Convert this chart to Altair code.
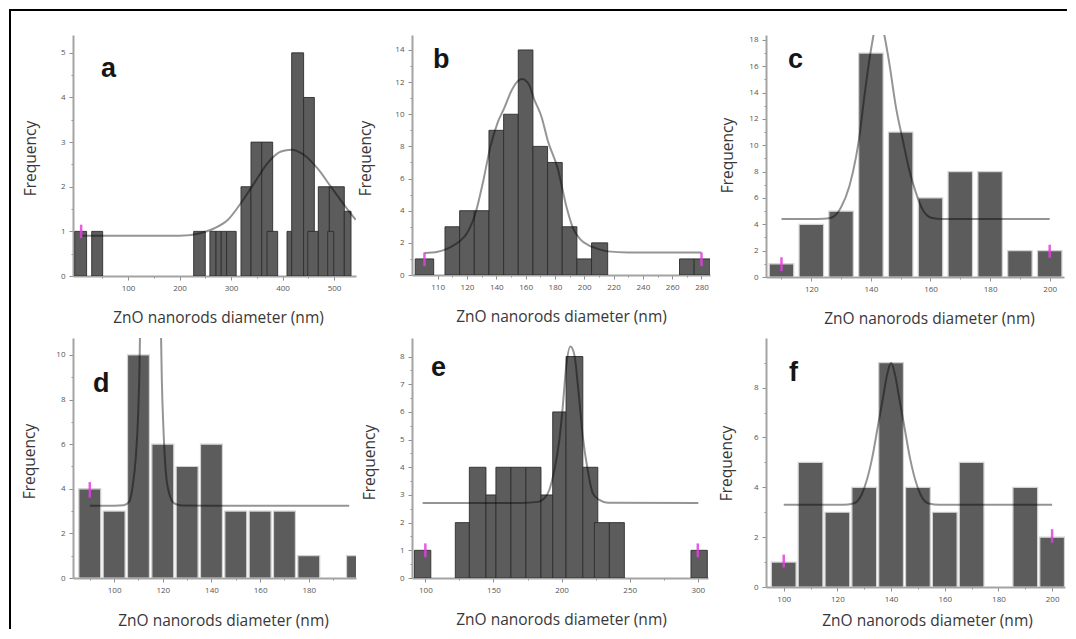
import json
import altair as alt
import pandas as pd

# ------------------------------------------------------------------ data
# panel a : bin edges (nm) and frequencies
a_left = [-3.5, 29.5, 227.5, 259, 271, 281, 291.5, 319.4, 338.8, 359.6, 370, 408.7, 417.8, 441, 449, 469.5, 491, 487.7, 520]
a_right = [19.6, 50.8, 250, 271, 281, 291.5, 310, 338.8, 359.6, 380.9, 390.6, 417.8, 441, 461.8, 469.5, 491, 520, 499.4, 533]
a_count = [1, 1, 1, 1, 1, 1, 1, 2, 3, 3, 1, 1, 5, 4, 1, 2, 2, 1, 1.45]
a_fit_x = [10, 100, 200, 240, 268, 294, 319, 345, 371, 397, 417, 442, 468, 494, 520, 542]
a_fit_y = [0.9, 0.9, 0.9, 0.96, 1.07, 1.26, 1.63, 2.08, 2.53, 2.79, 2.83, 2.71, 2.41, 2.0, 1.59, 1.26]
a_pink_x, a_pink_lo, a_pink_hi = [9], [0.85], [1.15]
a_xmaj, a_xmin = [100, 200, 300, 400, 500], [50, 150, 250, 350, 450]
a_xlab = ["100", "200", "300", "400", "500"]
a_ymaj, a_ymin = [0, 1, 2, 3, 4, 5], [0.5, 1.5, 2.5, 3.5, 4.5]

# panel b
b_left = [84.7, 105, 115, 125, 135, 145, 155, 165, 175, 185, 195, 205, 265, 275]
b_right = [97.3, 115, 125, 135, 145, 155, 165, 175, 185, 195, 205, 216, 275, 286]
b_count = [1, 3, 4, 4, 9, 10, 14, 8, 7, 3, 1, 2, 1, 1]
b_fit_x = [91, 100, 105, 110, 115, 120, 126, 131, 136, 141, 145.5, 150, 154, 157.5, 162, 166, 171, 175, 182, 188, 192, 197.5, 203, 207, 216, 230, 280]
b_fit_y = [1.37, 1.45, 1.58, 1.8, 2.1, 2.6, 3.9, 5.8, 8.0, 9.5, 10.4, 11.4, 12.0, 12.2, 11.9, 10.9, 9.8, 8.4, 6.6, 4.2, 3.0, 2.2, 1.85, 1.7, 1.47, 1.4, 1.4]
b_pink_x, b_pink_lo, b_pink_hi = [91, 280], [0.55, 0.55], [1.4, 1.4]
b_xmaj = [100, 120, 140, 160, 180, 200, 220, 240, 260, 280]
b_xlab = ["110", "120", "140", "160", "180", "200", "220", "240", "260", "280"]
b_xmin = [110, 130, 150, 170, 190, 210, 230, 250, 270]
b_ymaj, b_ymin = [0, 2, 4, 6, 8, 10, 12, 14], [1, 3, 5, 7, 9, 11, 13]

# panel c : bar centres and frequencies
c_center = [110, 120, 130, 140, 150, 160, 170, 180, 190, 200]
c_count = [1, 4, 5, 17, 11, 6, 8, 8, 2, 2]
c_fit_x = [110, 120, 124, 126.6, 130, 132.8, 135, 136.1, 137.8, 139.5, 140.9, 142.7, 144.5, 146.2, 148.4, 150.7, 152.9, 155.1, 157.4, 160.2, 164, 200]
c_fit_y = [4.4, 4.4, 4.42, 4.5, 5.3, 6.9, 9.1, 10.6, 13.7, 16.5, 18.4, 20.5, 18.4, 16.2, 12.9, 10.4, 8.1, 6.4, 5.1, 4.5, 4.4, 4.4]
c_pink_x, c_pink_lo, c_pink_hi = [110, 200], [0.45, 1.45], [1.5, 2.45]
c_xmaj, c_xmin = [120, 140, 160, 180, 200], [110, 130, 150, 170, 190]
c_xlab = ["120", "140", "160", "180", "200"]
c_ymaj, c_ymin = [0, 2, 4, 6, 8, 10, 12, 14, 16, 18], [1, 3, 5, 7, 9, 11, 13, 15, 17]

# panel d
d_center = [90, 100, 110, 120, 130, 140, 150, 160, 170, 180, 200]
d_count = [4, 3, 10, 6, 5, 6, 3, 3, 3, 1, 1]
d_fit_x = [90, 100, 104, 106.2, 107.6, 108.9, 109.9, 110.4, 110.8, 115, 119.1, 119.6, 120.3, 121.2, 122.6, 124.7, 128, 140, 196.6]
d_fit_y = [3.24, 3.24, 3.26, 3.42, 4.1, 5.4, 7.4, 9.3, 12, 60, 12, 8.9, 6.6, 4.8, 3.8, 3.35, 3.25, 3.24, 3.24]
d_pink_x, d_pink_lo, d_pink_hi = [90], [3.6], [4.3]
d_xmaj, d_xmin = [100, 120, 140, 160, 180], [90, 110, 130, 150, 170, 190]
d_xlab = ["100", "120", "140", "160", "180"]
d_ymaj, d_ymin = [0, 2, 4, 6, 8, 10], [1, 3, 5, 7, 9]

# panel e : bin edges
e_left = [92, 122, 132.3, 144.5, 151.8, 162.8, 173.8, 184.9, 193.5, 203.3, 215.6, 224.1, 235.1, 295]
e_right = [104, 132.3, 144.5, 151.8, 162.8, 173.8, 184.9, 193.5, 203.3, 215.6, 226.6, 235.1, 246.1, 307]
e_count = [1, 2, 4, 3, 4, 4, 4, 3, 6, 8, 4, 2, 2, 1]
e_fit_x = [98, 150, 170, 182.5, 187.4, 191, 194.7, 198.4, 200.9, 203.3, 206.5, 209.4, 212.3, 215.6, 219.2, 222.9, 227.8, 233.9, 300.4]
e_fit_y = [2.71, 2.71, 2.71, 2.75, 2.88, 3.18, 3.9, 5.0, 6.2, 7.6, 8.36, 8.06, 6.8, 5.1, 3.9, 3.06, 2.82, 2.72, 2.71]
e_pink_x, e_pink_lo, e_pink_hi = [100, 300], [0.75, 0.75], [1.25, 1.25]
e_xmaj, e_xmin = [100, 150, 200, 250, 300], [125, 175, 225, 275]
e_xlab = ["100", "150", "200", "250", "300"]
e_ymaj, e_ymin = [0, 1, 2, 3, 4, 5, 6, 7, 8], [0.5, 1.5, 2.5, 3.5, 4.5, 5.5, 6.5, 7.5]

# panel f
f_center = [100, 110, 120, 130, 140, 150, 160, 170, 190, 200]
f_count = [1, 5, 3, 4, 9, 4, 3, 5, 4, 2]
f_fit_x = [100, 122, 126, 129, 131, 133, 135, 137, 138.5, 140, 141.5, 143, 145, 147, 149, 151, 154, 158, 200]
f_fit_y = [3.3, 3.3, 3.35, 3.7, 4.3, 5.2, 6.4, 7.6, 8.5, 9.0, 8.5, 7.6, 6.4, 5.2, 4.3, 3.7, 3.35, 3.3, 3.3]
f_pink_x, f_pink_lo, f_pink_hi = [100, 200], [0.78, 1.78], [1.3, 2.32]
f_xmaj, f_xmin = [100, 120, 140, 160, 180, 200], [110, 130, 150, 170, 190]
f_xlab = ["100", "120", "140", "160", "180", "200"]
f_ymaj, f_ymin = [0, 2, 4, 6, 8], [1, 3, 5, 7, 9]

XTITLE = "ZnO nanorods diameter (nm)"
YTITLE = "Frequency"

# ------------------------------------------------------------------ helpers
def lab_expr(major, labels):
    m = json.dumps(major)
    return f"indexof({m}, datum.value) >= 0 ? {json.dumps(labels)}[indexof({m}, datum.value)] : ''"


def make_axis(major, minor, labels, title, tx, ty, orient):
    m = json.dumps(major)
    kw = dict(
        values=sorted(set(major + minor)),
        title=title,
        orient=orient,
        labelExpr=lab_expr(major, labels),
        labelOverlap=False,
        labelFlush=False,
        labelBound=False,
        grid=False,
        tickSize={"condition": {"test": f"indexof({m}, datum.value) < 0", "value": 2}, "value": 4},
        titleX=tx,
        titleY=ty,
        titleAlign="center",
    )
    if orient == "bottom":
        kw["titleBaseline"] = "alphabetic"
    else:
        kw["titleBaseline"] = "middle"
        kw["titleAngle"] = 270
    return alt.Axis(**kw)


def panel(letter, bars, fit_x, fit_y, px, plo, phi, xdom, ydom, w, h,
          xmaj, xmin, xlab, ymaj, ymin, xt, yt, let_pos, light, extra=None):
    xs = alt.Scale(domain=xdom, nice=False, zero=False)
    ys = alt.Scale(domain=ydom, nice=False, zero=False)
    xa = make_axis(xmaj, xmin, xlab, XTITLE, xt[0], xt[1], "bottom")
    ya = make_axis(ymaj, ymin, [str(v) for v in ymaj], YTITLE, yt[0], yt[1], "left")
    X = lambda f: alt.X(f, type="quantitative", scale=xs, axis=xa)
    Y = lambda f: alt.Y(f, type="quantitative", scale=ys, axis=ya)

    bar_layer = alt.Chart(bars).mark_rect(
        clip=True,
        fill="#5c5c5c",
        stroke="#d2d2d2" if light else "#2e2e2e",
        strokeWidth=1.2 if light else 0.9,
    ).encode(x=X("l"), x2="r", y=Y("h"), y2=alt.datum(0))

    fit = pd.DataFrame({"x": fit_x, "y": fit_y})
    fit_layer = alt.Chart(fit).mark_line(
        clip=True, interpolate="monotone", color="black", opacity=0.42, strokeWidth=2
    ).encode(x=X("x"), y=Y("y"))

    pk = pd.DataFrame({"x": px, "lo": plo, "hi": phi})
    pink_layer = alt.Chart(pk).mark_rule(
        color="#e23fe0", strokeWidth=2.5, opacity=0.85, clip=True
    ).encode(x=X("x"), y=Y("lo"), y2="hi")

    let_layer = alt.Chart(pd.DataFrame({"t": [letter]})).mark_text(
        align="left", baseline="alphabetic", font="Liberation Sans",
        fontSize=27, fontWeight="bold", color="#151515",
    ).encode(text="t:N", x=alt.value(let_pos[0]), y=alt.value(let_pos[1]))

    layers = [bar_layer, fit_layer, pink_layer, let_layer]
    if extra:
        layers += extra
    return alt.layer(*layers).properties(width=w, height=h)


def edges(left, right, count):
    return pd.DataFrame({"l": left, "r": right, "h": count})


def centred(center, count, half):
    return pd.DataFrame({"l": [c - half for c in center],
                         "r": [c + half for c in center], "h": count})


one = pd.DataFrame({"k": [0]})
frame = [
    alt.Chart(one).mark_rule(color="black", strokeWidth=2, clip=False).encode(
        x=alt.value(-64), x2=alt.value(994), y=alt.value(-25)),
    alt.Chart(one).mark_rule(color="black", strokeWidth=2, clip=False).encode(
        x=alt.value(-63), y=alt.value(-25), y2=alt.value(594)),
]

pa = panel("a", edges(a_left, a_right, a_count), a_fit_x, a_fit_y,
           a_pink_x, a_pink_lo, a_pink_hi, [-6.8, 542.7], [0, 5.40], 283, 241,
           a_xmaj, a_xmin, a_xlab, a_ymaj, a_ymin, (145, 46), (-43, 123),
           (28, 42), False, extra=frame)
pb = panel("b", edges(b_left, b_right, b_count), b_fit_x, b_fit_y,
           b_pink_x, b_pink_lo, b_pink_hi, [82.5, 285.8], [0, 14.93], 298, 240,
           b_xmaj, b_xmin, b_xlab, b_ymaj, b_ymin, (149, 46), (-47, 123),
           (21, 33), False)
pc = panel("c", centred(c_center, c_count, 4.1), c_fit_x, c_fit_y,
           c_pink_x, c_pink_lo, c_pink_hi, [104.8, 204.8], [0, 18.37], 298, 242,
           c_xmaj, c_xmin, c_xlab, c_ymaj, c_ymin, (163, 46), (-39, 120),
           (22, 33), True)
pd_ = panel("d", centred(d_center, d_count, 4.5), d_fit_x, d_fit_y,
            d_pink_x, d_pink_lo, d_pink_hi, [83.1, 199.4], [0, 10.76], 283, 240,
            d_xmaj, d_xmin, d_xlab, d_ymaj, d_ymin, (150, 47), (-44, 123),
            (20, 54), True)
pe = panel("e", edges(e_left, e_right, e_count), e_fit_x, e_fit_y,
           e_pink_x, e_pink_lo, e_pink_hi, [90.2, 307.5], [0, 8.67], 296, 240,
           e_xmaj, e_xmin, e_xlab, e_ymaj, e_ymin, (149, 46), (-43, 124),
           (19, 38), False)
pf = panel("f", centred(f_center, f_count, 4.6), f_fit_x, f_fit_y,
           f_pink_x, f_pink_lo, f_pink_hi, [93.4, 204.8], [0, 9.99], 299, 249,
           f_xmaj, f_xmin, f_xlab, f_ymaj, f_ymin, (161, 38), (-40, 125),
           (23, 43), True)

chart = alt.concat(pa, pb, pc, pd_, pe, pf, columns=3,
                   spacing={"row": 61, "column": 56}, bounds="flush").properties(
    padding={"left": 0, "top": 1, "right": 0, "bottom": 0},
    background="white",
).configure_view(stroke=None).configure_axis(
    domainColor="#a3a3a3", domainWidth=2,
    tickColor="#8f8f8f", tickWidth=1,
    labelFont="Open Sans", labelFontSize=8, labelColor="#555555", labelPadding=4,
    titleFont="Open Sans", titleFontSize=15.5, titleFontWeight="normal", titleColor="#383838",
)

chart.save("out.html", embed_options={"renderer": "svg", "actions": False})
